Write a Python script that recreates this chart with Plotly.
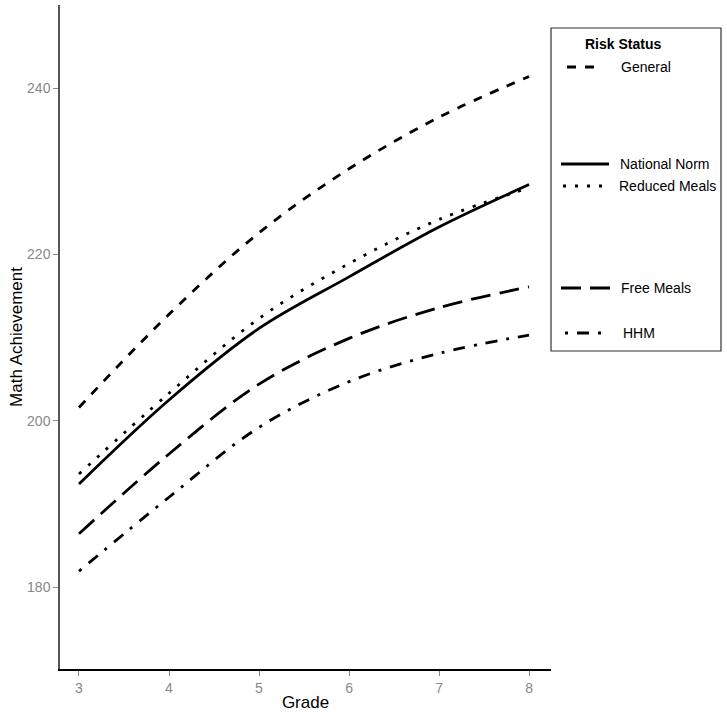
import plotly.graph_objects as go

grades = [3, 4, 5, 6, 7, 8]
general = [201.6, 212.8, 222.6, 230.3, 236.5, 241.4]
national_norm = [192.4, 202.5, 211.1, 217.3, 223.3, 228.4]
reduced_meals = [193.6, 203.3, 212.3, 218.9, 224.2, 228.0]
free_meals = [186.4, 196.0, 204.4, 209.9, 213.6, 216.1]
hhm = [181.9, 190.8, 199.2, 204.7, 208.1, 210.3]

series_names = ["General", "National Norm", "Reduced Meals", "Free Meals", "HHM"]
series_values = [general, national_norm, reduced_meals, free_meals, hhm]
dashes = ["9px,9px", "solid", "3px,9px", "20px,9px", "3px,9px,12px,9px"]

W, H = 727, 713
L, R, T, B = 60, 176, 5, 44
pw, ph = W - L - R, H - T - B

def px(x):
    return (x - L) / pw

def py(y):
    return (H - B - y) / ph

fig = go.Figure()
for name, vals, d in zip(series_names, series_values, dashes):
    fig.add_trace(go.Scatter(x=grades, y=vals, mode="lines", name=name,
                             line=dict(color="black", width=2.8, dash=d, shape="spline", smoothing=1.0),
                             showlegend=False))

shapes = []
annotations = []
# legend box
shapes.append(dict(type="rect", xref="paper", yref="paper", x0=px(551), x1=px(721), y0=py(351), y1=py(28),
                   line=dict(color="#333", width=1.2)))
annotations.append(dict(xref="paper", yref="paper", x=px(583), y=py(44), text="<b>Risk Status</b>",
                        showarrow=False, xanchor="left", yanchor="middle",
                        font=dict(family="Liberation Sans, Arial", size=14, color="black")))
leg = [
    ("General", 567, 597, 67, 619),
    ("National Norm", 561, 609, 164, 618),
    ("Reduced Meals", 563, 603, 186, 617),
    ("Free Meals", 561, 612, 288, 619),
    ("HHM", 565, 603, 333, 621),
]
for (name, x0, x1, yy, tx), d in zip(leg, dashes):
    shapes.append(dict(type="line", xref="paper", yref="paper", x0=px(x0), x1=px(x1), y0=py(yy), y1=py(yy),
                       line=dict(color="black", width=2.8, dash=d)))
    annotations.append(dict(xref="paper", yref="paper", x=px(tx), y=py(yy), text=name, showarrow=False,
                            xanchor="left", yanchor="middle",
                            font=dict(family="Liberation Sans, Arial", size=14, color="black")))

fig.update_layout(
    width=W, height=H,
    margin=dict(l=L, r=R, t=T, b=B),
    paper_bgcolor="white", plot_bgcolor="white",
    font=dict(family="Liberation Sans, Arial", size=13, color="#888"),
    shapes=shapes, annotations=annotations,
    xaxis=dict(range=[2.789, 8.244], tickvals=grades, ticks="outside", ticklen=5, tickcolor="#888",
               showline=True, linecolor="black", linewidth=1.5, showgrid=False, zeroline=False,
               tickfont=dict(size=14, color="#888"),
               title=dict(text="Grade", font=dict(size=17, color="black"), standoff=2)),
    yaxis=dict(range=[170.14, 250], tickvals=[180, 200, 220, 240], ticks="outside", ticklen=5, tickcolor="#888",
               showline=True, linecolor="#555", linewidth=1.5, showgrid=False, zeroline=False,
               tickfont=dict(size=14, color="#888"),
               title=dict(text="Math Achievement", font=dict(size=17, color="black"), standoff=0)),
)
fig.write_html("out.html", config={"displayModeBar": False},
               post_script="document.body.style.margin='0';document.body.style.overflow='hidden';")
